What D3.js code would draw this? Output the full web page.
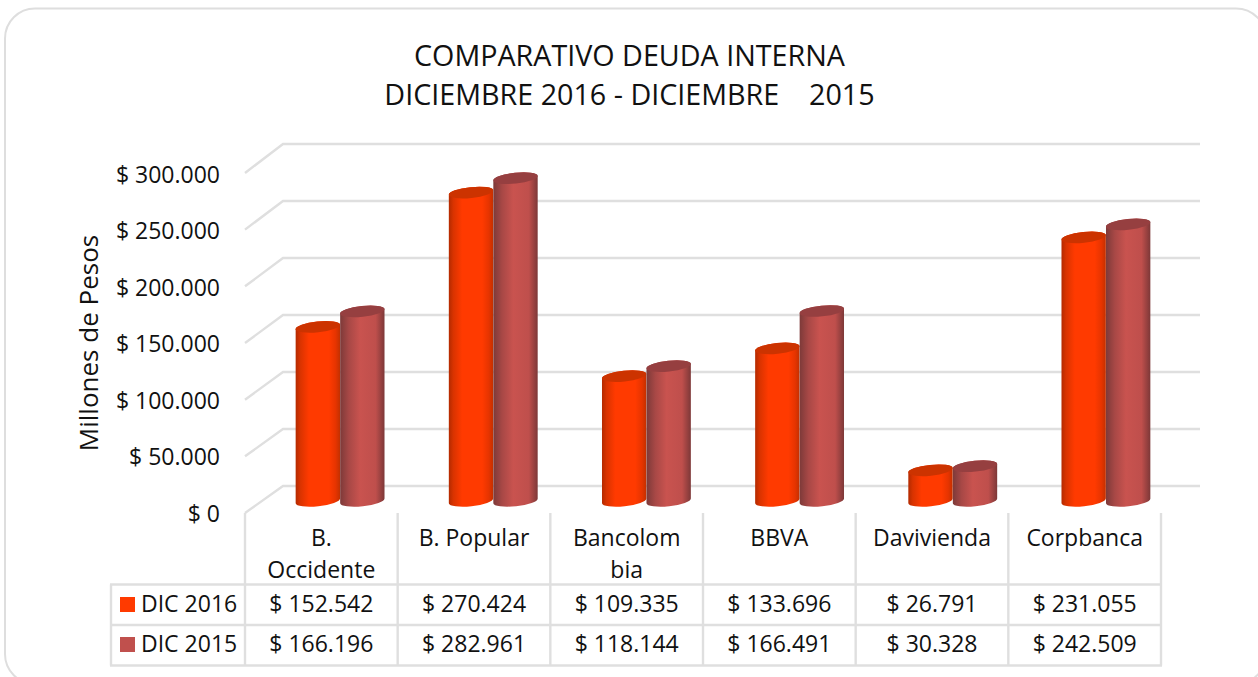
<!DOCTYPE html>
<html><head><meta charset="utf-8">
<script src="https://cdnjs.cloudflare.com/ajax/libs/d3/7.8.5/d3.min.js"></script>
<style>html,body{margin:0;padding:0;background:#fff;overflow:hidden}svg{display:block}text{font-family:"Open Sans",sans-serif;fill:#111}</style>
</head><body><div id="c"></div>
<script>
const categories=["B. Occidente","B. Popular","Bancolombia","BBVA","Davivienda","Corpbanca"];
const categoryLines=[["B.","Occidente"],["B. Popular"],["Bancolom","bia"],["BBVA"],["Davivienda"],["Corpbanca"]];
const seriesNames=["DIC 2016","DIC 2015"];
const dic2016=[152542,270424,109335,133696,26791,231055];
const dic2015=[166196,282961,118144,166491,30328,242509];
const seriesValues=[dic2016,dic2015];
const yTicks=[0,50000,100000,150000,200000,250000,300000];
const titleLines=["COMPARATIVO DEUDA INTERNA","DICIEMBRE 2016 - DICIEMBRE    2015"];
const yTitle="Millones de Pesos";
const fmt=v=>"$ "+String(v).replace(/\B(?=(\d{3})+(?!\d))/g,".");

const W=1258,H=677;
const svg=d3.select("#c").append("svg").attr("width",W).attr("height",H);
const defs=svg.append("defs");
const grid="#dfdfdf";
const ramps=[
 {id:"g0",stops:[[0,"#b32a00"],[.1,"#d83300"],[.3,"#ff3a00"],[.75,"#ff3a00"],[.9,"#e63400"],[1,"#c33000"]],top:"#cc3300",swatch:"#ff3a00"},
 {id:"g1",stops:[[0,"#7d3a39"],[.2,"#a84846"],[.45,"#c9534f"],[.8,"#bf4f4c"],[1,"#7d3838"]],top:"#963f40",swatch:"#c0504d"}];
ramps.forEach(r=>{const g=defs.append("linearGradient").attr("id",r.id).attr("x1",0).attr("x2",1).attr("y1",0).attr("y2",0);
 r.stops.forEach(s=>g.append("stop").attr("offset",s[0]).attr("stop-color",s[1]));});

svg.append("rect").attr("x",5).attr("y",8.5).attr("width",1261).attr("height",675.5).attr("rx",30).attr("fill","#fff").attr("stroke","#dedede").attr("stroke-width",2);

const title=svg.append("g");
titleLines.forEach((t,i)=>title.append("text").attr("x",629.5).attr("y",66+i*39).attr("text-anchor","middle").attr("font-size",28.7).style("white-space","pre").text(t));

// scales: back wall, front edge of the 3-D floor, and tick-label baselines
const yBack=d3.scaleLinear().domain([0,300000]).range([486,144]);
const yFront=d3.scaleLinear().domain([0,300000]).range([513,173]);
const yLabel=d3.scaleLinear().domain([0,300000]).range([521.5,182.5]);
const xCol=d3.scaleBand().domain(categories).range([245,1161]);
const xBar=d3.scaleBand().domain(categories).range([263.5,1182.5]);
const xSer=d3.scaleBand().domain(d3.range(2)).range([0,89]);

const g=svg.append("g").attr("stroke",grid).attr("stroke-width",2.4).attr("fill","none");
yTicks.forEach(v=>{
 g.append("path").attr("d",`M245,${yFront(v)}L283,${yBack(v)}L1200,${yBack(v)}`);
});

// cylinders
const rx=22.3,ry=5.4,tilt=-6,baseOffset=14.8;
const ang=tilt*Math.PI/180;
const cyl=(cx,by,ty)=>{
 const dx=rx*Math.cos(ang),dy=rx*Math.sin(ang);
 return `M${cx-dx},${ty-dy}L${cx-dx},${by-dy}A${rx},${ry} ${tilt} 0 0 ${cx+dx},${by+dy}L${cx+dx},${ty+dy}A${rx},${ry} ${tilt} 0 0 ${cx-dx},${ty-dy}Z`;
};
const bars=svg.append("g");
categories.forEach((c,ci)=>{
 seriesValues.forEach((vals,si)=>{
  const cx=xBar(c)+(xBar.bandwidth()-89)/2+xSer(si)+xSer.bandwidth()/2;
  const by=yBack(0)+baseOffset, ty=by-(yBack(0)-yBack(vals[ci]));
  bars.append("path").attr("d",cyl(cx,by,ty)).attr("fill",`url(#${ramps[si].id})`);
  bars.append("ellipse").attr("cx",0).attr("cy",0).attr("rx",rx).attr("ry",ry)
   .attr("transform",`translate(${cx},${ty}) rotate(${tilt})`).attr("fill",ramps[si].top);
 });
});

// y axis labels
yTicks.forEach(v=>svg.append("text").attr("x",220).attr("y",yLabel(v)).attr("text-anchor","end").attr("font-size",23).text(fmt(v)));
svg.append("text").attr("transform","translate(98,343) rotate(-90)").attr("text-anchor","middle").attr("font-size",26).text(yTitle);

// data table
const rowY=[584.5,625,665.5];
const t=svg.append("g").attr("stroke",grid).attr("stroke-width",2.4).attr("fill","none");
rowY.forEach(y=>t.append("line").attr("x1",110).attr("x2",1162).attr("y1",y).attr("y2",y));
t.append("line").attr("x1",111).attr("x2",111).attr("y1",rowY[0]).attr("y2",rowY[2]);
categories.forEach(c=>t.append("line").attr("x1",xCol(c)).attr("x2",xCol(c)).attr("y1",513).attr("y2",rowY[2]));
t.append("line").attr("x1",1161).attr("x2",1161).attr("y1",513).attr("y2",rowY[2]);

categories.forEach((c,i)=>{
 const cx=xCol(c)+xCol.bandwidth()/2;
 categoryLines[i].forEach((l,j)=>svg.append("text").attr("x",cx).attr("y",545.5+j*32).attr("text-anchor","middle").attr("font-size",23).text(l));
 seriesValues.forEach((vals,si)=>svg.append("text").attr("x",cx).attr("y",(si?651.5:611.5)).attr("text-anchor","middle").attr("font-size",23).text(fmt(vals[i])));
});
seriesNames.forEach((n,si)=>{
 const y=si?651.5:611.5;
 svg.append("rect").attr("x",120).attr("y",y-14.5).attr("width",15).attr("height",15).attr("fill",ramps[si].swatch);
 svg.append("text").attr("x",141).attr("y",y).attr("font-size",23).text(n);
});
</script></body></html>
